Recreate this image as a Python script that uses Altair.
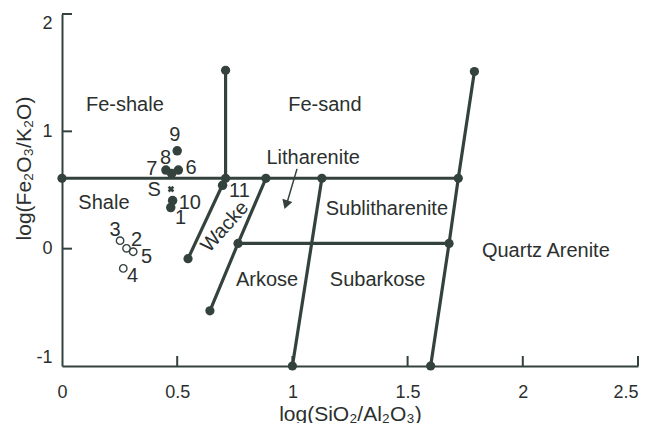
import altair as alt
import pandas as pd

C = "#34423e"
TXT = "#2b302e"
FONT = "Liberation Sans"

# --- axis ticks ---
x_ticks = [0, 0.5, 1, 1.5, 2, 2.5]
y_ticks = [-1, 0, 1, 2]

# --- classification boundary lines (polyline id, vertex order, x, y) ---
line_id = ["A", "A", "B", "B", "C", "C", "D", "D", "D", "E", "E", "F", "F", "F", "F", "G", "G"]
line_ord = [0, 1, 0, 1, 0, 1, 0, 1, 2, 0, 1, 0, 1, 2, 3, 0, 1]
line_x = [0.0, 1.72, 0.71, 0.71, 0.71, 0.547, 0.885, 0.764, 0.642, 1.128, 1.0, 1.79, 1.72, 1.68, 1.60, 0.764, 1.68]
line_y = [0.6, 0.6, 1.52, 0.6, 0.6, -0.085, 0.6, 0.045, -0.53, 0.6, -1.0, 1.51, 0.6, 0.045, -1.0, 0.045, 0.045]

# --- vertex dots ---
node_x = [0.0, 0.71, 0.71, 0.547, 0.885, 0.764, 0.642, 1.128, 1.0, 1.79, 1.72, 1.68, 1.60]
node_y = [0.6, 1.52, 0.6, -0.085, 0.6, 0.045, -0.53, 0.6, -1.0, 1.51, 0.6, 0.045, -1.0]

# --- samples ---
filled_id = ["1", "6", "7", "8", "9", "10", "11"]
filled_x = [0.472, 0.505, 0.451, 0.476, 0.500, 0.480, 0.697]
filled_y = [0.35, 0.67, 0.67, 0.64, 0.834, 0.41, 0.54]

open_id = ["2", "3", "4", "5"]
open_x = [0.280, 0.252, 0.266, 0.309]
open_y = [0.003, 0.068, -0.168, -0.026]

s_x = [0.473]
s_y = [0.508]

# --- sample number labels ---
lab_text = ["1", "2", "3", "4", "5", "6", "7", "8", "9", "10", "11", "S"]
lab_x = [0.515, 0.324, 0.23, 0.306, 0.367, 0.56, 0.39, 0.45, 0.49, 0.555, 0.77, 0.40]
lab_y = [0.26, 0.074, 0.16, -0.23, -0.068, 0.69, 0.68, 0.77, 0.97, 0.39, 0.49, 0.50]

# --- field names ---
reg_text = ["Fe-shale", "Fe-sand", "Shale", "Litharenite", "Sublitharenite", "Arkose", "Subarkose", "Quartz Arenite"]
reg_x = [0.273, 1.141, 0.182, 1.09, 1.41, 0.89, 1.37, 2.10]
reg_y = [1.226, 1.226, 0.39, 0.77, 0.34, -0.27, -0.27, -0.017]

wacke_text = ["Wacke"]
wacke_x = [0.707]
wacke_y = [0.187]

# --- arrow ---
arrow_x = [1.02, 0.978]
arrow_y = [0.68, 0.40]
head_x = [0.972]
head_y = [0.375]

xs = alt.Scale(domain=[0, 2.5], nice=False, zero=False)
ys = alt.Scale(domain=[-1, 2], nice=False, zero=False)

xaxis = alt.Axis(values=x_ticks, labelExpr="'' + datum.value", ticks=False, grid=False,
                 labelFlush=False,
                 labelAlign=alt.condition("datum.value == 2.5", alt.value("right"), alt.value("center")),
                 domainColor=C, domainWidth=2, labelFontSize=18, labelColor=TXT, labelFont=FONT,
                 labelPadding=17, title="log(SiO₂/Al₂O₃)", titleFont=FONT, titleFontSize=21,
                 titleFontWeight="normal", titleColor=TXT, titlePadding=2)
yaxis = alt.Axis(values=y_ticks, labelExpr="'' + datum.value", ticks=False, grid=False,
                 labelFlush=True,
                 domainColor=C, domainWidth=2, labelFontSize=18, labelColor=TXT, labelFont=FONT,
                 labelPadding=10, title="log(Fe₂O₃/K₂O)", titleFont=FONT, titleFontSize=21,
                 titleFontWeight="normal", titleColor=TXT, titleX=-28, titleY=154)

X = alt.X("x:Q", scale=xs, axis=xaxis)
Y = alt.Y("y:Q", scale=ys, axis=yaxis)

lines_df = pd.DataFrame({"id": line_id, "o": line_ord, "x": line_x, "y": line_y})
lines = alt.Chart(lines_df).mark_line(color=C, strokeWidth=3.2).encode(
    x=X, y=Y, detail="id:N", order="o:Q")

nodes = alt.Chart(pd.DataFrame({"x": node_x, "y": node_y})).mark_circle(
    color=C, size=85, opacity=1).encode(x=X, y=Y)

filled = alt.Chart(pd.DataFrame({"id": filled_id, "x": filled_x, "y": filled_y})).mark_circle(
    color=C, size=90, opacity=1).encode(x=X, y=Y)

opened = alt.Chart(pd.DataFrame({"id": open_id, "x": open_x, "y": open_y})).mark_point(
    shape="circle", filled=False, color=C, size=55, strokeWidth=1.4, opacity=1).encode(x=X, y=Y)

spt = alt.Chart(pd.DataFrame({"x": s_x, "y": s_y})).mark_point(
    shape="cross", filled=True, color=C, size=45, angle=45, opacity=1).encode(x=X, y=Y)

labels = alt.Chart(pd.DataFrame({"t": lab_text, "x": lab_x, "y": lab_y})).mark_text(
    font=FONT, fontSize=20, color=TXT).encode(x=X, y=Y, text="t:N")

regions = alt.Chart(pd.DataFrame({"t": reg_text, "x": reg_x, "y": reg_y})).mark_text(
    font=FONT, fontSize=20, color=TXT).encode(x=X, y=Y, text="t:N")

wacke = alt.Chart(pd.DataFrame({"t": wacke_text, "x": wacke_x, "y": wacke_y})).mark_text(
    font=FONT, fontSize=20, color=TXT, angle=312).encode(x=X, y=Y, text="t:N")

arrow = alt.Chart(pd.DataFrame({"x": arrow_x, "y": arrow_y})).mark_line(
    color=C, strokeWidth=1.5).encode(x=X, y=Y)
head = alt.Chart(pd.DataFrame({"x": head_x, "y": head_y})).mark_point(
    shape="triangle-down", filled=True, color=C, size=110, angle=18, opacity=1).encode(x=X, y=Y)

H = 352
xt = alt.Chart(pd.DataFrame({"x": x_ticks[1:]})).mark_rule(color=C, strokeWidth=2).encode(
    x=X, y=alt.value(H), y2=alt.value(H - 10))
yt = alt.Chart(pd.DataFrame({"y": y_ticks[1:]})).mark_rule(color=C, strokeWidth=2).encode(
    y=Y, x=alt.value(0), x2=alt.value(10))

chart = alt.layer(lines, nodes, filled, opened, spt, arrow, head, labels, regions, wacke, xt, yt).properties(
    width=576, height=H,
    autosize=alt.AutoSizeParams(type="none"),
    padding={"left": 54, "top": 6, "right": 5, "bottom": 57},
    background="white",
).configure_view(stroke=None)

chart.save("out.html", embed_options={"renderer": "svg", "actions": False})
